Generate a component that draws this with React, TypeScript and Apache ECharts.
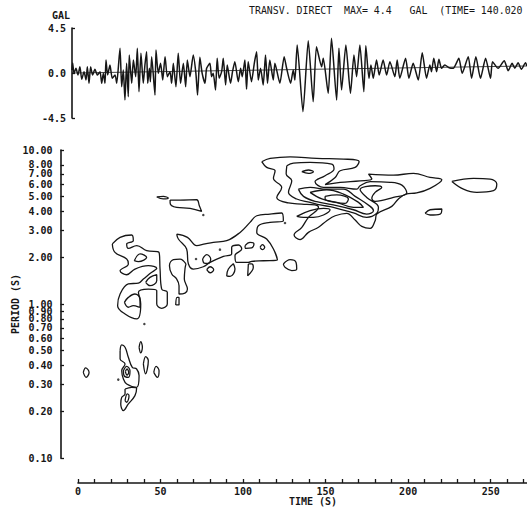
import React, { useEffect, useRef } from "react";
import * as echarts from "echarts";

const INK = "#161616";
const MONO = "'DejaVu Sans Mono', 'Liberation Mono', monospace";

const titleText = "TRANSV. DIRECT  MAX= 4.4   GAL  (TIME= 140.020";
const timeLabels = [0, 50, 100, 150, 200, 250];
const timeTicks = [0, 10, 20, 30, 40, 50, 60, 70, 80, 90, 100, 110, 120, 130, 140, 150, 160, 170, 180, 190, 200, 210, 220, 230, 240, 250, 260, 270];
const periodTicks = [0.1, 0.2, 0.3, 0.4, 0.5, 0.6, 0.7, 0.8, 0.9, 1, 2, 3, 4, 5, 6, 7, 8, 9, 10];

// accelerogram: time (s), acceleration (gal)
const waveTime = [0, 0.4, 1.2, 2.4, 3.6, 4.8, 5.9, 7.3, 8.5, 9.3, 10.3, 11.3, 12.5, 13.9, 15.4, 17, 18, 19, 20, 20.6, 21.6, 23, 24.4, 26.1, 27.1, 29.1, 30.1, 31.1, 32.1, 33.1, 34.1, 34.7, 36.2, 37.2, 38.6, 39.6, 40.6, 41.8, 43.2, 44.2, 45.2, 45.9, 46.9, 47.5, 48.3, 50.3, 50.9, 52.3, 53.7, 55, 56.4, 57.8, 59.4, 60.4, 61.4, 63, 64.4, 65.8, 67.5, 68.9, 69.9, 71.5, 73.5, 75.1, 76.1, 77.5, 78.9, 80.6, 81.6, 83.6, 84.6, 85.6, 87, 88, 89.2, 90.7, 91.7, 93.1, 94.1, 96.1, 97.3, 98.7, 100.8, 102.2, 103.2, 104.8, 105.8, 106.8, 108.8, 110.5, 111.9, 112.9, 114.3, 115.9, 117.3, 118.5, 119.9, 122, 123, 126, 128.6, 130.1, 132.5, 134.1, 135.1, 136.5, 140, 143.2, 146.2, 148.2, 151.3, 152.3, 155.3, 157.3, 160.4, 161.8, 163.4, 166, 168.8, 170.9, 172.5, 174.5, 176.9, 178.1, 180, 181.2, 182.6, 184.6, 186.2, 188.6, 190.7, 192.7, 195.7, 197.1, 198.7, 202.2, 204.2, 206.8, 209.9, 212.3, 214.9, 216.9, 217.9, 219.3, 221, 222.4, 224, 226, 228.6, 231.1, 234.5, 236.5, 240.2, 242.2, 244.8, 247.6, 250.7, 253.7, 254.9, 258.3, 262, 264.4, 266.8, 268.4, 270.4, 272.4, 274.9, 275.7];
const waveValue = [0.3, 1, -0.03, 0.47, -0.2, 0.63, -0.63, 0.13, -0.7, 0.63, -1.03, 0.63, -0.2, 0.37, -0.2, 0.13, -1.03, -0.03, -1.03, 1.3, -0.2, 0.8, -0.53, -0.2, -1.03, 2.47, -1.37, 0.3, -2.7, 0.97, -2.37, 1.8, -1.03, 1.3, -0.37, 2.47, -1.87, 1.97, -1.03, 0.8, 2.13, -1.03, 0.47, -0.87, 1.63, -2.2, 2.3, -0.03, 0.97, -0.7, 1.63, -0.37, 0.13, -1.03, 0.97, -1.37, 1.97, -1.03, 0.97, -1.37, 1.3, -0.37, 1.8, -0.03, -2.2, 1.57, -0.03, -1.03, 0.47, 0.97, -0.37, -0.03, -1.7, 1.47, -0.53, 0.13, 1.47, -1.2, 0.8, -1.03, 0.13, 1.13, -0.87, 0.47, -0.37, 1.3, -1.63, 1.13, -0.87, 0.97, 2.13, -0.7, 0.47, -1.2, 1.8, -1.03, 1.3, -0.7, 0.97, -1.03, 1.63, 0.47, -1.03, 0.3, -0.7, 2.8, -3.87, 3.23, -2.87, 2.63, 0.63, 1.47, -2.03, 3.47, -2.7, 2.47, -1.7, 2.8, -2.03, 1.8, -0.37, 2.8, -1.87, 2.73, -0.53, 0.8, -0.53, 1.3, -0.2, 1.3, -0.2, 1.13, -0.37, 1.3, -0.53, 1.47, -0.53, 0.97, -0.7, 2.03, -0.53, 0.8, 0.13, 1.47, 0.13, 1.37, 0.47, 0.8, 0.53, 0.47, 1.47, -0.03, 1.63, -0.53, 1.63, -0.53, 1.47, -0.53, 1.13, 0.47, 1.23, 0.23, 0.97, 0.47, 1.03, 0.37, 1.03, 0.7];
const waveBaseline = [[0, 0], [275.7, 0.7]];

// response contours: [time (s), log10 of period (s)]
const mainOuter = [[111.3, 0.924], [114.3, 0.887], [119.4, 0.865], [118.4, 0.816], [123.4, 0.757], [120.4, 0.692], [127.5, 0.656], [135.6, 0.649], [143.6, 0.643], [145.7, 0.628], [139.6, 0.563], [135.6, 0.498], [130.9, 0.448], [134.5, 0.418], [139.6, 0.465], [145.7, 0.498], [150.7, 0.541], [155.8, 0.573], [162.8, 0.589], [167.9, 0.545], [171.9, 0.504], [177, 0.491], [180, 0.541], [181, 0.584], [190.1, 0.634], [194.1, 0.682], [198.6, 0.714], [205.2, 0.721], [213.3, 0.751], [220.4, 0.807], [213.3, 0.822], [203.2, 0.848], [191.1, 0.837], [176, 0.844], [178, 0.811], [170.9, 0.8], [158.8, 0.79], [149.7, 0.775], [155.8, 0.822], [158.8, 0.865], [167.9, 0.887], [170.3, 0.926], [160.8, 0.941], [144.6, 0.945], [128.5, 0.956], [116.4, 0.945]];
const mainSecond = [[126.5, 0.898], [130.5, 0.915], [140.6, 0.92], [153.7, 0.909], [155.1, 0.876], [149.7, 0.833], [143.6, 0.794], [148.7, 0.757], [158.8, 0.757], [168.9, 0.746], [170.9, 0.768], [177, 0.794], [189.1, 0.79], [196.2, 0.772], [199.2, 0.721], [191.1, 0.692], [180, 0.666], [178, 0.686], [180, 0.725], [184, 0.757], [180, 0.768], [170.9, 0.742], [174.9, 0.692], [182, 0.628], [181, 0.589], [174.9, 0.563], [166.9, 0.591], [154.7, 0.628], [146.7, 0.643], [140.6, 0.66], [132.5, 0.682], [127.5, 0.725], [129.5, 0.8], [126.1, 0.844]];
const mainThird = [[133.5, 0.746], [140.6, 0.757], [150.7, 0.746], [160.8, 0.746], [167.9, 0.699], [177, 0.634], [179, 0.606], [174.9, 0.584], [166.9, 0.612], [154.7, 0.643], [144.6, 0.664], [136.6, 0.699]];
const mainFourth = [[140.6, 0.725], [150.7, 0.742], [160.8, 0.714], [169.9, 0.66], [172.9, 0.628], [166.9, 0.628], [156.8, 0.66], [147.7, 0.682]];
const mainFifth = [[149.7, 0.699], [156.8, 0.708], [163.8, 0.682], [161.8, 0.653], [155.8, 0.66], [149.7, 0.682]];
const mainEye = [[135.6, 0.859], [139.6, 0.87], [142.6, 0.859], [139.6, 0.848]];
const lowerLens = [[132.5, 0.569], [140.6, 0.606], [148.7, 0.621], [152.7, 0.612], [148.7, 0.578], [142.6, 0.563], [136.6, 0.563]];
const rightOval = [[226.5, 0.796], [239.6, 0.816], [249.7, 0.811], [253.7, 0.779], [251.7, 0.736], [241.6, 0.725], [233.5, 0.746]];
const rightSmall = [[210.3, 0.589], [213.3, 0.612], [220.4, 0.617], [219.4, 0.584], [213.3, 0.578]];
const stripA = [[47.7, 0.695], [51.7, 0.699], [54.7, 0.688], [51.7, 0.682]];
const stripB = [[55.8, 0.675], [61.8, 0.675], [71.9, 0.677], [73.5, 0.638], [74.9, 0.601], [67.9, 0.621], [59.8, 0.627], [55.8, 0.656]];
const midBand = [[59.8, 0.454], [66.3, 0.433], [71.9, 0.379], [77, 0.39], [82, 0.4], [90.1, 0.411], [98.2, 0.465], [104.2, 0.53], [108.3, 0.573], [116.3, 0.584], [123.4, 0.591], [124.4, 0.541], [116.3, 0.53], [109.3, 0.508], [108.3, 0.465], [114.3, 0.422], [118.4, 0.357], [120.8, 0.286], [112.3, 0.281], [105.2, 0.277], [103.2, 0.27], [96.1, 0.27], [95.1, 0.314], [99.2, 0.357], [97.2, 0.383], [93.1, 0.368], [93.1, 0.325], [88.1, 0.309], [80, 0.27], [75.9, 0.242], [69.9, 0.227], [66.9, 0.26], [65.8, 0.357], [60.8, 0.422]];
const legA = [[94.1, 0.262], [91.1, 0.227], [90.1, 0.184], [92.1, 0.18], [95.1, 0.227]];
const legB = [[103.2, 0.26], [102.8, 0.184], [106.2, 0.238], [105.2, 0.26]];
const circleA = [[75.5, 0.292], [78, 0.32], [80.4, 0.292], [79, 0.264], [76.4, 0.266]];
const circleB = [[78, 0.223], [80, 0.242], [82.2, 0.223], [80, 0.203]];
const ovalC = [[101.2, 0.379], [104.2, 0.4], [106.6, 0.39], [105.2, 0.364], [101.6, 0.361]];
const circleD = [[110.3, 0.368], [111.7, 0.385], [113.1, 0.368], [111.7, 0.353]];
const blobE = [[124.4, 0.26], [128.5, 0.288], [132.1, 0.27], [132.5, 0.227], [129.5, 0.217], [125.4, 0.238]];
const leftBig = [[20.8, 0.39], [25.5, 0.433], [32.5, 0.448], [33.5, 0.411], [29.5, 0.39], [30.5, 0.361], [35.6, 0.379], [41.6, 0.346], [49.1, 0.335], [49.7, 0.227], [50.7, 0.097], [54.1, 0.076], [54.1, 0], [50.7, -0.028], [47.7, 0], [47.7, 0.087], [42.6, 0.097], [36.6, 0.076], [38, 0], [35.6, -0.097], [28.5, -0.065], [24, -0.011], [25.5, 0.065], [30.5, 0.13], [36.6, 0.136], [39.6, 0.162], [44, 0.201], [47.7, 0.232], [42.6, 0.249], [34.5, 0.227], [29.5, 0.19], [25.5, 0.216], [30.5, 0.26], [29.5, 0.292], [22.4, 0.335]];
const leftUpper = [[34.1, 0.281], [37.6, 0.325], [41.6, 0.303], [36.6, 0.275]];
const leftEllipse = [[41, 0.141], [43.6, 0.173], [47.7, 0.19], [47.7, 0.151], [43.6, 0.119]];
const leftInner = [[28.1, 0.011], [30.5, 0.043], [34.5, 0.065], [37.6, 0.033], [37.2, -0.021], [33.5, -0.011], [30.5, -0.021]];
const midLobe = [[65.4, 0.26], [61.8, 0.292], [57.8, 0.288], [55.4, 0.249], [56.8, 0.195], [59.8, 0.162], [61.2, 0.119], [61.2, 0.065], [64.8, 0.071], [66.3, 0.097], [64.4, 0.162], [64.8, 0.227]];
const midSliver = [[59.2, -0.006], [60, 0.043], [61.2, 0.043], [61.2, -0.006]];
const lowOvalA = [[3.2, -0.444], [4.6, -0.415], [6.7, -0.444], [4.9, -0.476]];
const lowCentre = [[25.5, -0.303], [26.5, -0.266], [28.5, -0.281], [30.5, -0.346], [32.9, -0.411], [35.5, -0.422], [37, -0.465], [35.5, -0.541], [29.5, -0.519], [27.5, -0.487], [26.5, -0.433], [28.5, -0.389], [25.5, -0.357]];
const lowRing = [[27.5, -0.433], [29.5, -0.405], [31.5, -0.433], [30.5, -0.476], [27.9, -0.465]];
const lowCore = [[28.7, -0.439], [29.7, -0.422], [30.7, -0.444], [29.7, -0.461]];
const lowLower = [[28.5, -0.552], [32.5, -0.541], [35.5, -0.547], [34.5, -0.595], [30.5, -0.649], [27.5, -0.692], [25.9, -0.649], [26.5, -0.606], [28.5, -0.584]];
const lowLowerInner = [[28.5, -0.627], [29.9, -0.584], [30.9, -0.595], [29.5, -0.638]];
const lowSmall = [[37, -0.281], [38, -0.244], [39, -0.281], [38, -0.318]];
const lowOvalB = [[39.6, -0.389], [41, -0.342], [42.6, -0.368], [42, -0.422], [41, -0.454]];
const lowOvalC = [[45.9, -0.444], [47.3, -0.405], [49.1, -0.433], [48.1, -0.476]];
const specks = [[71.5, 0.292], [86, 0.353], [125.4, 0.526], [75.9, 0.578], [40.2, -0.13], [24.4, -0.491]];

const contours = [mainOuter, mainSecond, mainThird, mainFourth, mainFifth, mainEye, lowerLens, rightOval, rightSmall, stripA, stripB, midBand, legA, legB, circleA, circleB, ovalC, circleD, blobE, leftBig, leftUpper, leftEllipse, leftInner, midLobe, midSliver, lowOvalA, lowCentre, lowRing, lowCore, lowLower, lowLowerInner, lowSmall, lowOvalB, lowOvalC];

const toPeriod = (p: number[]) => [p[0], Math.pow(10, p[1])];

export default function App() {
  const ref = useRef<HTMLDivElement>(null);
  useEffect(() => {
    document.body.style.margin = "0";
    const chart = echarts.init(ref.current!, null, { renderer: "svg" });
    const axisLine = { show: true, onZero: false, lineStyle: { color: INK, width: 1.6 } };
    const labelStyle = { color: INK, fontFamily: MONO, fontSize: 10, fontWeight: "bold" as const };
    chart.setOption({
      animation: false,
      backgroundColor: "#ffffff",
      title: {
        text: titleText,
        left: 249,
        top: 5,
        padding: 0,
        textStyle: { color: INK, fontFamily: MONO, fontSize: 9.9, fontWeight: "normal" },
      },
      grid: [
        { left: 72, right: 0, top: 28, height: 90, outerBoundsMode: "none" },
        { left: 78, right: 0, top: 150, height: 308, outerBoundsMode: "none" },
      ],
      xAxis: [
        { type: "value", gridIndex: 0, min: 0, max: 275.8, show: false },
        {
          type: "value",
          gridIndex: 1,
          min: 0,
          max: 272,
          position: "bottom",
          offset: 25,
          splitLine: { show: false },
          axisLine,
          axisTick: { show: true, inside: true, length: 4, customValues: timeTicks, lineStyle: { color: INK, width: 1.3 } },
          axisLabel: { ...labelStyle, margin: 3, customValues: timeLabels },
          name: "TIME (S)",
          nameLocation: "middle",
          nameGap: 13,
          nameMoveOverlap: false,
          nameTextStyle: { ...labelStyle, padding: [0, 0, 0, 21] },
        },
      ],
      yAxis: [
        {
          type: "value",
          gridIndex: 0,
          min: -4.5,
          max: 4.5,
          interval: 4.5,
          splitLine: { show: false },
          axisLine,
          axisTick: { show: true, inside: true, length: 3, lineStyle: { color: INK, width: 1.3 } },
          axisLabel: { ...labelStyle, margin: 6, formatter: (v: number) => v.toFixed(1) },
          name: "GAL",
          nameLocation: "end",
          nameGap: 8,
          nameTextStyle: { ...labelStyle, padding: [0, 22, 0, 0] },
        },
        {
          type: "log",
          gridIndex: 1,
          logBase: 10,
          min: 0.1,
          max: 10,
          offset: 17.5,
          splitLine: { show: false },
          minorTick: { show: false },
          axisLine,
          axisTick: { show: true, inside: true, length: 3.5, customValues: periodTicks, lineStyle: { color: INK, width: 1.3 } },
          axisLabel: {
            ...labelStyle,
            margin: 8,
            showMinLabel: true,
            showMaxLabel: true,
            customValues: periodTicks,
            formatter: (v: number) => Number(v).toFixed(2),
          },
          name: "PERIOD (S)",
          nameLocation: "middle",
          nameRotate: 90,
          nameGap: 40,
          nameMoveOverlap: false,
          nameTextStyle: labelStyle,
        },
      ],
      series: [
        {
          type: "line",
          xAxisIndex: 0,
          yAxisIndex: 0,
          data: waveTime.map((t, i) => [t, waveValue[i]]),
          showSymbol: false,
          smooth: 0.2,
          lineStyle: { color: INK, width: 1.5 },
        },
        {
          type: "line",
          xAxisIndex: 0,
          yAxisIndex: 0,
          data: waveBaseline,
          showSymbol: false,
          lineStyle: { color: INK, width: 0.8 },
        },
        ...contours.map((c) => ({
          type: "line",
          xAxisIndex: 1,
          yAxisIndex: 1,
          data: [...c, c[0]].map(toPeriod),
          showSymbol: false,
          smooth: 0.4,
          lineStyle: { color: INK, width: 1.3 },
        })),
        {
          type: "scatter",
          xAxisIndex: 1,
          yAxisIndex: 1,
          data: specks.map(toPeriod),
          symbolSize: 2.5,
          itemStyle: { color: INK },
        },
      ],
    });
    return () => chart.dispose();
  }, []);
  return <div ref={ref} style={{ width: 527, height: 507 }} />;
}
